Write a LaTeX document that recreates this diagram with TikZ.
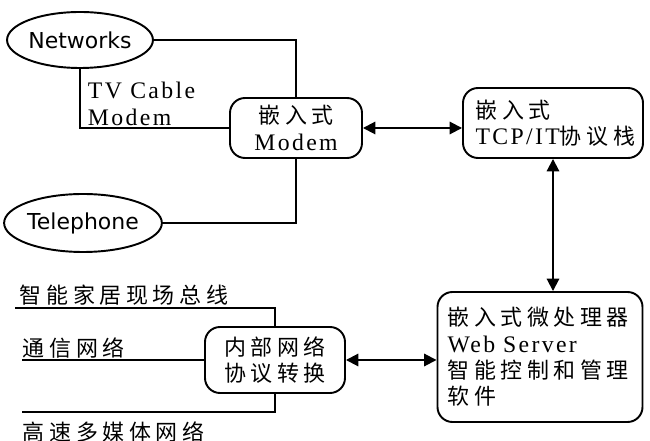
\documentclass[tikz,border=0pt]{standalone}
\usepackage{fontspec}
\setmainfont[Scale=1.08,LetterSpace=10]{Liberation Serif}
\newfontfamily\zhfont[LetterSpace=21]{Noto Sans CJK SC}
\newfontfamily\ellfont{DejaVu Sans}
\newcommand\zh[1]{{\zhfont #1}}
\usetikzlibrary{shapes.geometric,arrows.meta}

\begin{document}
\begin{tikzpicture}
		[x=0.2mm,y=-0.2mm,line width=1.1pt,
		 font=\fontsize{12.5}{15}\selectfont,
		 ell/.style={ellipse,draw,inner sep=0pt,font=\ellfont\fontsize{12.5}{15}\selectfont},
		 box/.style={draw,rounded corners=3mm,inner sep=0pt,align=center},
		 lbl/.style={anchor=west,inner sep=0pt,align=left},
		 dbl/.style={{Triangle[length=7pt,width=7pt]}-{Triangle[length=7pt,width=7pt]}}]

		\useasboundingbox (0,0) rectangle (650,441);

		\node[ell,minimum width=26.4mm,minimum height=11.2mm] (net) at (80,40) {Networks};

		\node[ell,minimum width=27.2mm,minimum height=11.6mm] (tel) at (83,223) {Telephone};

		\node[box,minimum width=26.4mm,minimum height=12mm] (modem) at (296,128)
			{\zh{嵌入式}\\Modem};

		\node[box,minimum width=36mm,minimum height=14mm,text width=31mm,
			inner xsep=2.5mm,align=left] (tcp) at (553,123)
			{\zh{嵌入式}\\TCP/IT\zh{协议栈}};

		\node[box,minimum width=41mm,minimum height=26mm,text width=37mm,
			inner xsep=2mm,align=left] (web) at (540,357)
			{\zh{嵌入式微处理器}\\Web Server\\\zh{智能控制和管理}\\\zh{软件}};

		\node[box,minimum width=28mm,minimum height=13.2mm] (proto) at (275,360)
			{\zh{内部网络}\\\zh{协议转换}};

		\node[lbl] (tvcable) at (87,104) {TV Cable\\Modem};

		\node[lbl] (bus) at (19,295) {\zh{智能家居现场总线}};
		\node[lbl] (comm) at (22,348) {\zh{通信网络}};
		\node[lbl] (media) at (22,432) {\zh{高速多媒体网络}};

		\coordinate (b1) at (15,308);
		\coordinate (b2) at (22,360);
		\coordinate (b3) at (22,412);

		% outside lines
		\draw (net.east) -| (modem.north);
		\draw (net.south) |- (modem.west);
		\draw (modem.south) |- (tel.east);

		\draw[dbl] (modem.east) -- (modem.east -| tcp.west);
		\draw[dbl] (tcp.south) -- (tcp.south |- web.north);
		\draw[dbl] (proto.east) -- (proto.east -| web.west);

		% inside lines
		\draw (b1) -| (proto.north);
		\draw (b2) -- (proto.west);
		\draw (b3) -| (proto.south);

	\end{tikzpicture}
\end{document}
